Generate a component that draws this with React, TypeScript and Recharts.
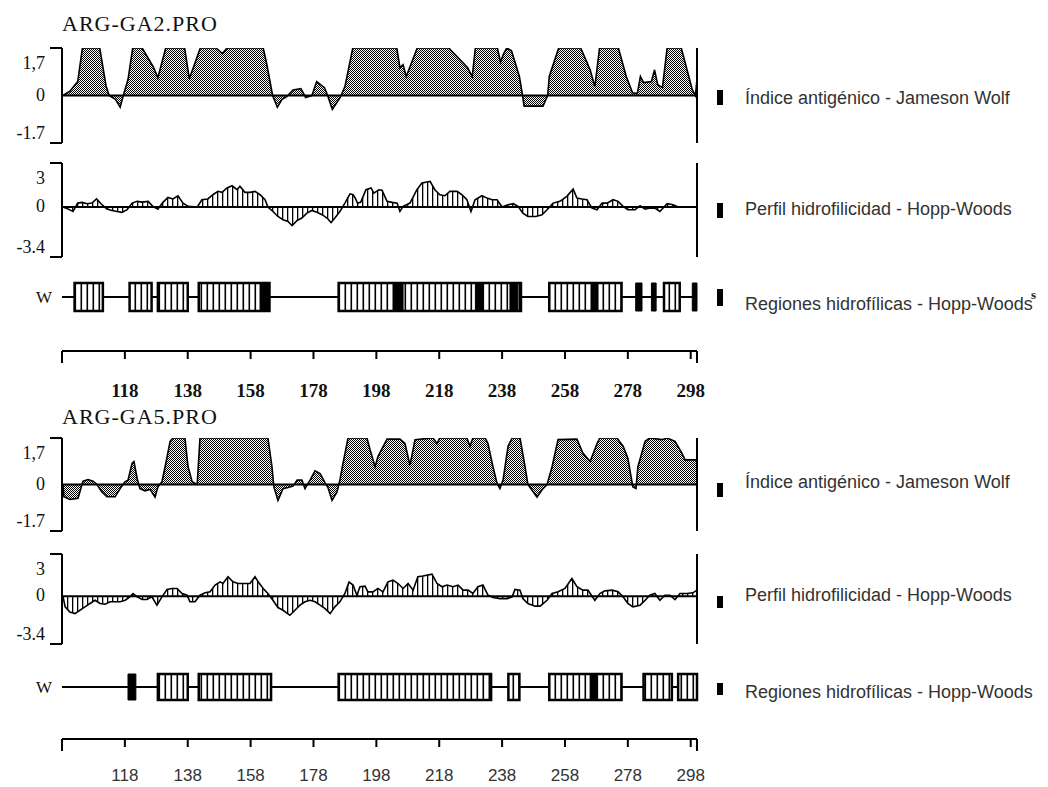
import React from "react";
import { ComposedChart, Area, XAxis, YAxis, ReferenceLine, ReferenceArea } from "recharts";

const SERIF = '"Liberation Serif", "DejaVu Serif", serif';
const SANS = '"Liberation Sans", Arial, sans-serif';

// residue axis shared by every track
const X_DOMAIN: [number, number] = [98, 300];
const X_TICKS = [98, 118, 138, 158, 178, 198, 218, 238, 258, 278, 298, 300];

const AG_DOMAIN: [number, number] = [-1.7, 1.7];
const AG_TICKS = [-1.7, 0, 1.7];
const AG_LABELS = ["-1.7", "0", "1,7"];
const HW_DOMAIN: [number, number] = [-3.4, 3];
const HW_TICKS = [-3.4, 0, 3];
const HW_LABELS = ["-3.4", "0", "3"];

const LEGEND_AG = "Índice antigénico - Jameson Wolf";
const LEGEND_HW = "Perfil hidrofilicidad - Hopp-Woods";
const LEGEND_RG = "Regiones hidrofílicas - Hopp-Woods";

// [residue, value]
const GA2_ANTIGENIC: [number, number][] = [
  [98.3, 0], [100.5, 0.15], [103, 0.5], [104.5, 1.7], [110, 1.7], [112, 0.35], [113, 0],
  [115, -0.14], [116.5, -0.42], [117.5, 0], [119, 0.57], [120.5, 1.7], [123.5, 1.7],
  [127, 1.03], [128.5, 0.64], [131, 1.7], [137, 1.7], [138.5, 0.6], [142, 1.7], [147, 1.7],
  [149, 1.5], [150.5, 1.7], [162, 1.7], [163, 1.2], [165, 0], [166.5, -0.42], [168, -0.14],
  [169.5, -0.04], [171.5, 0.2], [174, 0.25], [175.5, -0.07], [177.5, 0], [179, 0.5],
  [181.5, 0.28], [182.5, 0], [184, -0.5], [186.5, -0.07], [188, 0.32], [190.5, 1.7],
  [204.5, 1.7], [205.5, 1.0], [206.5, 1.1], [207.5, 0.68], [211, 1.7], [221, 1.7],
  [227, 1.0], [228.5, 0.68], [229.5, 1.7], [236.5, 1.7], [237.5, 1.2], [238.5, 1.5],
  [239.5, 1.7], [241, 1.6], [243.5, 0.68], [244.5, 0], [245, -0.38], [251, -0.38],
  [252.5, 0], [253, 0.68], [256, 1.7], [263, 1.7], [266, 0.92], [267.5, 0.32], [269, 1.7],
  [275, 1.7], [277.5, 0.68], [279.5, 0.1], [281, 0.07], [282, 0.68], [283, 0.46],
  [285.5, 0.5], [286.5, 0.92], [287.5, 0.39], [289, 0.28], [290.5, 1.7], [295, 1.7],
  [298.5, 0.21], [299.5, 0], [300, 0.6],
];

const GA2_HYDRO: [number, number][] = [
  [98.3, 0], [100, -0.14], [101.5, -0.3], [103, 0.27], [104.4, 0.32], [106, 0.23],
  [107.5, 0.27], [109, 0.55], [110.7, 0.16], [112.3, -0.14], [113.9, -0.23], [115.5, -0.3],
  [117.1, -0.36], [118.7, -0.18], [120.3, 0.27], [121.9, 0.39], [123.5, 0.34], [125.4, 0.39],
  [126.9, 0.05], [128.5, -0.14], [130.1, 0.32], [131.7, 0.66], [133.3, 0.55], [134.9, 0.77],
  [136.5, 0.27], [138.1, 0.05], [141, 0], [142.5, 0.5], [144.4, 0.55], [146, 0.84],
  [147.6, 1.07], [148.9, 1.0], [150.5, 1.3], [152.1, 1.45], [153.7, 1.18], [154.6, 1.41],
  [156.2, 1.0], [157.8, 1.0], [159.4, 1.07], [161, 0.84], [162.6, 0.5], [163.5, 0],
  [165.1, -0.3], [166.7, -0.64], [168.3, -0.86], [169.9, -0.98], [171.2, -1.27],
  [172.8, -0.91], [174.3, -0.75], [175.9, -0.41], [177.5, -0.23], [179.1, -0.36],
  [180.7, -0.52], [182.3, -0.75], [183.6, -1.05], [184.8, -0.75], [186.4, -0.3], [188, 0.27],
  [189.6, 0.9], [190.6, 0.84], [191.3, 0.6], [192, 0.27], [193, 0.32], [194.7, 1.18],
  [196.3, 1.3], [197.2, 0.95], [198.8, 1.18], [199.8, 1.14], [201.4, 0.39], [203, 0.32],
  [204.6, 0.27], [205.5, -0.3], [206.5, 0.05], [208.7, 0.27], [210.9, 1.18], [212.5, 1.64],
  [215.1, 1.75], [216.6, 1.18], [218.2, 0.84], [219.8, 0.77], [221.4, 1.07], [223.7, 1.07],
  [225.2, 0.84], [226.8, 0.5], [228.1, -0.3], [229.4, 0.5], [231.6, 0.77], [233.2, 0.61],
  [234.8, 0.5], [236.4, 0.5], [238, 0], [239.9, 0.16], [241.5, 0.23], [243.1, 0.05],
  [244.6, -0.41], [246.2, -0.64], [248.7, -0.64], [250.7, -0.52], [252.3, -0.18],
  [254.2, 0.27], [256.4, 0.39], [258.6, 0.73], [260.6, 1.23], [261.8, 0.61], [263.4, 0.55],
  [265, 0.5], [266.6, -0.07], [268.2, -0.18], [269.8, 0.27], [271.4, 0.27], [273.3, 0.5],
  [274.9, 0.39], [276.5, 0.05], [278, -0.18], [280.3, -0.18], [281.9, 0.09], [283.5, -0.14],
  [285, -0.07], [286.6, -0.07], [288.2, -0.3], [290.5, 0.23], [292.4, 0.16], [294, 0],
  [300, 0],
];

// hydrophilic regions: [start, end]
const GA2_BOXES: [number, number][] = [
  [102, 111], [119.5, 126.5], [128.5, 138], [141.5, 164], [186, 244], [253, 276], [289.5, 294.5],
];
const GA2_SOLID: [number, number][] = [
  [161, 164], [203.5, 206.5], [229.5, 232], [240.5, 243], [266.5, 268.5], [280.5, 282.5],
  [285.5, 287], [298.5, 300],
];

const GA5_ANTIGENIC: [number, number][] = [
  [98.3, 0], [98.6, -0.45], [100.5, -0.55], [103.1, -0.5], [104.1, -0.1], [104.7, 0.12],
  [106.3, 0.18], [107.9, 0.12], [109.1, 0], [110.7, -0.27], [112.3, -0.45], [114.9, -0.45],
  [116.5, -0.15], [118, 0.1], [119, 0.16], [120.3, 0.78], [120.9, 0.84], [121.9, 0.22],
  [122.8, -0.15], [124.4, -0.23], [126, -0.18], [127.6, -0.46], [128.5, -0.09], [129.8, 0.1],
  [130.8, 0.65], [132.4, 1.58], [133.3, 1.7], [137.1, 1.7], [138.1, 0.65], [139.4, 0.1],
  [141, 0], [141.9, 1.7], [163.5, 1.7], [164.8, 0.65], [165.4, -0.09], [166.7, -0.58],
  [168.3, -0.15], [169.9, -0.11], [171.5, -0.06], [172.8, 0.16], [174.3, 0.16],
  [175.3, -0.15], [176.9, 0.16], [178.5, 0.5], [180.1, 0.4], [181.7, 0.06], [182.6, -0.11],
  [183.9, -0.58], [185.5, -0.27], [186.4, 0.16], [187.4, 0.78], [189, 1.7], [195, 1.7],
  [196, 1.27], [197.6, 0.65], [198.5, 1.02], [201.4, 1.66], [205.5, 1.66], [207.1, 1.5],
  [208.7, 0.71], [210.3, 1.64], [216, 1.7], [217.3, 1.5], [218.2, 1.7], [226.8, 1.7],
  [227.8, 1.4], [228.7, 1.7], [232.6, 1.7], [233.5, 1.5], [235.1, 0.65], [236.4, 0.04],
  [237.3, -0.15], [238.3, 0.16], [239.9, 1.4], [241.2, 1.7], [243.7, 1.7], [245.3, 0.65],
  [246.2, 0], [249.1, -0.46], [251, -0.15], [252.3, 0], [253.9, 0.65], [255.8, 1.64],
  [261.8, 1.66], [263.7, 1.15], [266, 0.84], [268.2, 1.5], [269.1, 1.7], [274.5, 1.7],
  [276.5, 1.4], [278, 0.96], [279.6, -0.09], [280.6, -0.15], [281.2, 0.65], [283.5, 1.58],
  [285, 1.7], [288.9, 1.64], [290.5, 1.7], [293, 1.58], [295.2, 1.15], [296.2, 0.9],
  [300, 0.9],
];

const GA5_HYDRO: [number, number][] = [
  [98.3, 0], [99, -0.76], [100.5, -1.12], [102.1, -1.24], [103.7, -1.0], [105.3, -0.76],
  [106.9, -0.52], [108.5, -0.29], [110.1, -0.52], [111.7, -0.57], [113.3, -0.4], [114.9, -0.4],
  [116.5, -0.4], [118.1, -0.29], [119.6, -0.05], [120.6, 0.19], [121.9, -0.05], [123.5, -0.24],
  [125, -0.24], [126.6, -0.05], [128.2, -0.64], [129.8, -0.05], [131.4, 0.48], [133, 0.55],
  [134.6, 0.55], [136.2, 0.19], [137.8, 0.07], [138.7, -0.4], [140.3, -0.4], [141.9, 0.07],
  [143.5, 0.24], [145.1, 0.31], [146.7, 0.79], [148.3, 1.02], [149.2, 0.9], [150.8, 1.38],
  [152.4, 1.02], [154, 0.9], [156.2, 0.9], [157.8, 0.9], [159.4, 1.38], [160.4, 1.02],
  [162, 0.55], [163.5, 0.19], [165.1, -0.29], [166.7, -0.81], [168.3, -1.0], [170.5, -1.36],
  [172.1, -1.0], [173.7, -0.64], [175.3, -0.4], [176.9, -0.29], [178.5, -0.4], [180.1, -0.64],
  [181.7, -0.88], [183.3, -1.24], [184.8, -0.76], [186.4, -0.4], [188, 0.19], [189.3, 1.0],
  [190.6, 0.79], [191.8, 0.07], [192.8, 0.67], [194.4, 0.71], [195.3, 0.31], [196.9, 0.31],
  [198.5, 0.55], [200.1, 0.31], [201.7, 1.02], [203.3, 1.14], [204.9, 0.9], [206.5, 0.55],
  [208.1, 0.9], [209.7, 0.43], [211.2, 1.38], [212.8, 1.43], [215.7, 1.57], [217.3, 0.9],
  [218.9, 0.67], [220.5, 0.79], [222.4, 0.67], [224, 0.79], [225.6, 0.43], [227.2, 0.43],
  [228.7, 0.19], [230.3, 0.67], [231.9, 0.79], [233.5, 0.07], [235.1, -0.1], [237.3, -0.17],
  [239.6, -0.17], [241.2, -0.05], [242.1, 0.48], [243.7, 0.43], [244.6, -0.17], [246.2, -0.52],
  [248.5, -0.71], [250.1, -0.71], [252.3, -0.29], [253.9, 0.19], [255.8, 0.31], [258, 0.55],
  [260.2, 1.26], [261.8, 0.67], [263.7, 0.43], [265.3, 0.43], [267.5, -0.29], [269.1, 0.19],
  [270.7, 0.38], [273, 0.43], [274.9, 0.31], [276.5, -0.05], [278, -0.52], [279.6, -0.76],
  [281.9, -0.64], [283.5, -0.29], [285, 0.07], [286.6, 0.19], [288.2, -0.29], [289.8, 0.07],
  [291.4, 0.07], [293, -0.24], [294.6, 0.19], [296.8, 0.19], [298.7, 0.24], [300, 0.43],
];

const GA5_BOXES: [number, number][] = [
  [128.5, 138], [141.5, 164.5], [186, 234.5], [240, 243.5], [253, 276], [283, 292], [294, 300],
];
const GA5_SOLID: [number, number][] = [[119, 121.5], [266, 268]];

const CHART_W = 740;
const AXIS_W = 62;
const RIGHT = 43;
const PAD = 10;

function yTick(ticks: number[], labels: string[]) {
  return (props: any) => {
    const { x, y, payload } = props;
    const i = ticks.indexOf(payload.value);
    const last = ticks.length - 1;
    const shift = i === last ? 15 : i === 0 ? -10 : -1;
    return (
      <g>
        {(i === 0 || i === last) && (
          <line x1={x + 4} x2={x + 16} y1={y} y2={y} stroke="#000" strokeWidth={2} />
        )}
        <text x={x - 1} y={y + shift} dy="0.35em" textAnchor="end" fontFamily={SERIF} fontSize={18} fill="#111">
          {labels[i]}
        </text>
      </g>
    );
  };
}

function ProfileTrack({ id, top, bottom, data, domain, ticks, labels, kind }: any) {
  const rows = data.map(([pos, v]: [number, number]) => ({ pos, v }));
  const h = bottom - top;
  return (
    <div style={{ position: "absolute", left: 0, top: top - PAD }}>
      <ComposedChart width={CHART_W} height={h + 2 * PAD} data={rows} margin={{ top: PAD, right: RIGHT, bottom: PAD, left: 0 }}>
        <defs>
          {kind === "ag" ? (
            <pattern id={id} width="2" height="2" patternUnits="userSpaceOnUse">
              <rect width="2" height="2" fill="#fff" />
              <rect x="0" y="0" width="1" height="1" fill="#000" />
              <rect x="1" y="1" width="1" height="1" fill="#000" />
            </pattern>
          ) : (
            <pattern id={id} width="5" height="4" patternUnits="userSpaceOnUse">
              <rect width="5" height="4" fill="#fff" />
              <rect x="2" y="0" width="1.3" height="4" fill="#000" />
            </pattern>
          )}
        </defs>
        <XAxis type="number" dataKey="pos" domain={X_DOMAIN} hide allowDataOverflow />
        <YAxis
          type="number"
          domain={domain}
          ticks={ticks}
          interval={0}
          width={AXIS_W}
          axisLine={{ stroke: "#000", strokeWidth: 2 }}
          tickLine={false}
          tickSize={12}
          tickMargin={4}
          tick={yTick(ticks, labels)}
          allowDataOverflow
        />
        <Area
          type="linear"
          dataKey="v"
          baseValue={0}
          stroke="#000"
          strokeWidth={1.6}
          fill={`url(#${id})`}
          fillOpacity={1}
          dot={false}
          activeDot={false}
          isAnimationActive={false}
        />
        <ReferenceLine y={0} stroke="#000" strokeWidth={2} />
        <ReferenceLine x={300} stroke="#000" strokeWidth={2} />
      </ComposedChart>
    </div>
  );
}

const wTick = (props: any) => (
  <text x={props.x} y={props.y} dy="0.35em" textAnchor="end" fontFamily={SERIF} fontSize={17} fill="#111">
    W
  </text>
);

function RegionTrack({ id, top, bottom, boxes, solids }: any) {
  // lane 0.5 is the backbone row the boxes sit on
  const rows = boxes.map(([start, end]: [number, number]) => ({ start, end, lane: 0.5 }));
  const h = bottom - top;
  return (
    <div style={{ position: "absolute", left: 0, top: top - PAD }}>
      <ComposedChart width={CHART_W} height={h + 2 * PAD} data={rows} margin={{ top: PAD, right: RIGHT, bottom: PAD, left: 0 }}>
        <defs>
          <pattern id={id} width="6" height="4" patternUnits="userSpaceOnUse">
            <rect width="6" height="4" fill="#fff" />
            <rect x="2.5" y="0" width="1.6" height="4" fill="#000" />
          </pattern>
        </defs>
        <XAxis type="number" dataKey="start" domain={X_DOMAIN} hide allowDataOverflow />
        <YAxis
          type="number"
          dataKey="lane"
          domain={[0, 1]}
          ticks={[0.5]}
          width={AXIS_W}
          axisLine={false}
          tickLine={false}
          tickSize={0}
          tickMargin={10}
          tick={wTick}
          allowDataOverflow
        />
        <Area dataKey="lane" stroke="none" fill="none" isAnimationActive={false} dot={false} activeDot={false} />
        <ReferenceArea x1={X_DOMAIN[0]} x2={X_DOMAIN[1]} y1={0.465} y2={0.535} fill="#000" fillOpacity={1} stroke="none" />
        {boxes.map(([a, b]: [number, number], i: number) => (
          <ReferenceArea key={`b${i}`} x1={a} x2={b} y1={0} y2={1} fill={`url(#${id})`} fillOpacity={1} stroke="#000" strokeWidth={2.5} />
        ))}
        {solids.map(([a, b]: [number, number], i: number) => (
          <ReferenceArea key={`s${i}`} x1={a} x2={b} y1={0} y2={1} fill="#000" fillOpacity={1} stroke="#000" strokeWidth={1} />
        ))}
      </ComposedChart>
    </div>
  );
}

function AxisTrack({ axisY, bold }: { axisY: number; bold: boolean }) {
  const rows = X_TICKS.map((pos) => ({ pos }));
  const tick = (props: any) => {
    const { x, y, payload } = props;
    const v = payload.value;
    const edge = v === 98 || v === 300;
    return (
      <g>
        <line x1={x} x2={x} y1={y} y2={y + (edge ? 12 : 8)} stroke="#000" strokeWidth={2} />
        {!edge && (
          <text
            x={x}
            y={y + (bold ? 46 : 42)}
            textAnchor="middle"
            fontFamily={bold ? SERIF : SANS}
            fontWeight={bold ? 700 : 400}
            fontSize={bold ? 19 : 17}
            fill={bold ? "#111" : "#333"}
          >
            {v}
          </text>
        )}
      </g>
    );
  };
  return (
    <div style={{ position: "absolute", left: 0, top: axisY - 4 }}>
      <ComposedChart width={CHART_W} height={64} data={rows} margin={{ top: 2, right: RIGHT, bottom: 0, left: AXIS_W }}>
        <XAxis
          type="number"
          dataKey="pos"
          domain={X_DOMAIN}
          ticks={X_TICKS}
          interval={0}
          height={60}
          axisLine={{ stroke: "#000", strokeWidth: 2 }}
          tickLine={false}
          tickSize={0}
          tickMargin={0}
          tick={tick}
          allowDataOverflow
        />
        <YAxis hide domain={[0, 1]} />
      </ComposedChart>
    </div>
  );
}

function Legend({ center, text, markTop, markH }: { center: number; text: string; markTop: number; markH: number }) {
  return (
    <>
      <div style={{ position: "absolute", left: 717, top: markTop, width: 6, height: markH, background: "#000" }} />
      <div
        style={{
          position: "absolute",
          left: 745,
          top: center - 9,
          fontFamily: SANS,
          fontSize: 18,
          lineHeight: "18px",
          color: "#333",
          whiteSpace: "nowrap",
        }}
      >
        {text}
      </div>
    </>
  );
}

function Title({ center, text }: { center: number; text: string }) {
  return (
    <div
      style={{
        position: "absolute",
        left: 62,
        top: center - 11,
        fontFamily: SERIF,
        fontSize: 22,
        lineHeight: "22px",
        letterSpacing: 1,
        color: "#111",
        whiteSpace: "nowrap",
      }}
    >
      {text}
    </div>
  );
}

export default function App() {
  return (
    <div style={{ position: "absolute", left: 0, top: 0, width: 1048, height: 787, background: "#fff", overflow: "hidden" }}>
      <Title center={24} text="ARG-GA2.PRO" />
      <ProfileTrack id="ag2" kind="ag" top={48} bottom={143} data={GA2_ANTIGENIC} domain={AG_DOMAIN} ticks={AG_TICKS} labels={AG_LABELS} />
      <ProfileTrack id="hw2" kind="hw" top={163} bottom={257} data={GA2_HYDRO} domain={HW_DOMAIN} ticks={HW_TICKS} labels={HW_LABELS} />
      <RegionTrack id="rg2" top={283} bottom={311} boxes={GA2_BOXES} solids={GA2_SOLID} />
      <AxisTrack axisY={351} bold />
      <Legend center={98} text={LEGEND_AG} markTop={90} markH={15} />
      <Legend center={209} text={LEGEND_HW} markTop={203} markH={15} />
      <Legend center={304} text={LEGEND_RG} markTop={289} markH={17} />
      <div style={{ position: "absolute", left: 1031, top: 288, fontFamily: SERIF, fontWeight: 700, fontSize: 13, lineHeight: "13px", color: "#222" }}>
        s
      </div>

      <Title center={417} text="ARG-GA5.PRO" />
      <ProfileTrack id="ag5" kind="ag" top={438} bottom={531} data={GA5_ANTIGENIC} domain={AG_DOMAIN} ticks={AG_TICKS} labels={AG_LABELS} />
      <ProfileTrack id="hw5" kind="hw" top={554} bottom={644} data={GA5_HYDRO} domain={HW_DOMAIN} ticks={HW_TICKS} labels={HW_LABELS} />
      <RegionTrack id="rg5" top={674} bottom={700} boxes={GA5_BOXES} solids={GA5_SOLID} />
      <AxisTrack axisY={739} bold={false} />
      <Legend center={482} text={LEGEND_AG} markTop={483} markH={14} />
      <Legend center={595} text={LEGEND_HW} markTop={596} markH={12} />
      <Legend center={692} text={LEGEND_RG} markTop={683} markH={12} />
    </div>
  );
}
